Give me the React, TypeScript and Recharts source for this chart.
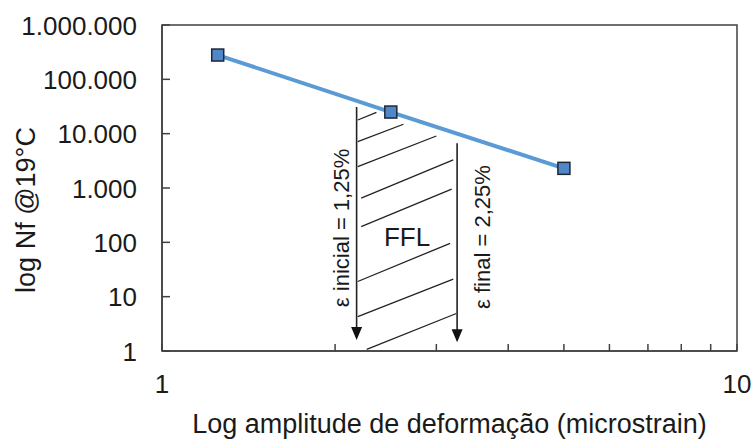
import React from "react";
import {
  LineChart,
  Line,
  XAxis,
  YAxis,
  ReferenceLine,
  ReferenceArea,
  ReferenceDot
} from "recharts";

// Fatigue points
const strainAmplitude = [1.25, 2.5, 5];
const cyclesToFailure = [280000, 25000, 2300];

const xTicks = [1, 2, 3, 4, 5, 6, 7, 8, 9, 10];
const xLabelledTicks = [1, 10];
const yTicks = [1, 10, 100, 1000, 10000, 100000, 1000000];

// Vertical arrows (initial / final strain)
const arrowX = [2.18, 3.26];
const arrowTop = [31000, 6650];
const arrowTip = [1.6, 1.45];

// Hatching between the arrows
const hatchX1 = [2.19, 2.19, 2.19, 2.22, 2.22, 2.19, 2.19, 2.27];
const hatchY1 = [17850, 7120, 2470, 650, 195, 19, 4.3, 1.07];
const hatchX2 = [2.36, 2.63, 3.0, 3.21, 3.19, 3.17, 3.21, 3.25];
const hatchY2 = [24700, 14900, 9060, 3280, 950, 96, 21, 4.9];

// Text annotations inside the plot
const noteText = ["ε inicial = 1,25%", "FFL", "ε final = 2,25%"];
const noteX = [2.056, 2.668, 3.615];
const noteY = [184, 123, 125];
const noteRotate = [true, false, true];

const data = strainAmplitude.map((x, i) => ({ x, nf: cyclesToFailure[i] }));

const font = "'Liberation Sans', Arial, sans-serif";
const ink = "#1a1a1a";
const axisColor = "#404040";

const fmtThousands = (v: number) =>
  String(v).replace(/\B(?=(\d{3})+(?!\d))/g, ".");

const XTick = (props: any) => {
  const { x, y, payload } = props;
  const v = payload.value;
  return (
    <g>
      <line x1={x} y1={y} x2={x} y2={y - 7} stroke={axisColor} strokeWidth={1.5} />
      {xLabelledTicks.includes(v) && (
        <text x={x} y={y + 42} textAnchor="middle" fontSize={26} fontFamily={font} fill={ink}>
          {v}
        </text>
      )}
    </g>
  );
};

const YTick = (props: any) => {
  const { x, y, payload } = props;
  return (
    <g>
      <line x1={x} y1={y} x2={x + 8} y2={y} stroke={axisColor} strokeWidth={1.5} />
      <text x={x - 25} y={y + 9.5} textAnchor="end" fontSize={26} fontFamily={font} fill={ink}>
        {fmtThousands(payload.value)}
      </text>
    </g>
  );
};

const SquareDot = (props: any) => {
  const { cx, cy, index } = props;
  return (
    <rect
      key={index}
      x={cx - 6}
      y={cy - 6}
      width={12}
      height={12}
      fill="#4f87c9"
      stroke="#1f2733"
      strokeWidth={1.5}
    />
  );
};

const ArrowShape = (props: any) => {
  const { x1, y1, x2, y2 } = props;
  return (
    <g>
      <line x1={x1} y1={y1} x2={x2} y2={y2 - 10} stroke="#222" strokeWidth={1.6} />
      <polygon points={`${x2 - 5.5},${y2 - 13} ${x2 + 5.5},${y2 - 13} ${x2},${y2}`} fill="#111" />
    </g>
  );
};

export default function App() {
  return (
    <div style={{ position: "absolute", left: 0, top: 0, background: "#fff" }}>
      <LineChart
        width={752}
        height={439}
        data={data}
        margin={{ top: 25, right: 15, left: 0, bottom: 0 }}
      >
        <XAxis
          dataKey="x"
          type="number"
          scale="log"
          domain={[1, 10]}
          ticks={xTicks}
          interval={0}
          tickSize={0}
          tickMargin={0}
          tickLine={false}
          tick={XTick}
          height={88}
          stroke={axisColor}
          strokeWidth={1.5}
          allowDataOverflow
          label={(p: any) => {
            const vb = p.viewBox || { x: 162, y: 351, width: 575 };
            return (
              <text
                x={vb.x + vb.width / 2}
                y={vb.y + 82}
                textAnchor="middle"
                fontSize={27}
                fontFamily={font}
                fill={ink}
              >
                Log amplitude de deformação (microstrain)
              </text>
            );
          }}
        />
        <YAxis
          type="number"
          scale="log"
          domain={[1, 1000000]}
          ticks={yTicks}
          interval={0}
          tickSize={0}
          tickMargin={0}
          tickLine={false}
          tick={YTick}
          width={162}
          stroke={axisColor}
          strokeWidth={1.5}
          allowDataOverflow
          label={(p: any) => {
            const vb = p.viewBox || { y: 25, height: 326 };
            const cy = vb.y + vb.height / 2 + 22;
            return (
              <text
                x={35}
                y={cy}
                transform={`rotate(-90 35 ${cy})`}
                textAnchor="middle"
                fontSize={27}
                fontFamily={font}
                fill={ink}
              >
                log Nf @19°C
              </text>
            );
          }}
        />
        <ReferenceArea
          x1={1}
          x2={10}
          y1={1}
          y2={1000000}
          fill="none"
          stroke={axisColor}
          strokeWidth={1.5}
        />
        {hatchX1.map((x, i) => (
          <ReferenceLine
            key={"h" + i}
            segment={[
              { x, y: hatchY1[i] },
              { x: hatchX2[i], y: hatchY2[i] }
            ]}
            stroke="#222"
            strokeWidth={1.3}
          />
        ))}
        {arrowX.map((x, i) => (
          <ReferenceLine
            key={"a" + i}
            segment={[
              { x, y: arrowTop[i] },
              { x, y: arrowTip[i] }
            ]}
            shape={ArrowShape}
          />
        ))}
        {noteText.map((t, i) => (
          <ReferenceDot
            key={"n" + i}
            x={noteX[i]}
            y={noteY[i]}
            r={0}
            shape={(p: any) => (
              <text
                x={p.cx}
                y={p.cy}
                transform={noteRotate[i] ? `rotate(-90 ${p.cx} ${p.cy})` : undefined}
                textAnchor="middle"
                dominantBaseline="central"
                fontSize={noteRotate[i] ? 22 : 26}
                fontFamily={font}
                fill={ink}
              >
                {t}
              </text>
            )}
          />
        ))}
        <Line
          dataKey="nf"
          stroke="#5b9bd5"
          strokeWidth={4}
          dot={SquareDot}
          activeDot={false}
          isAnimationActive={false}
        />
      </LineChart>
    </div>
  );
}
